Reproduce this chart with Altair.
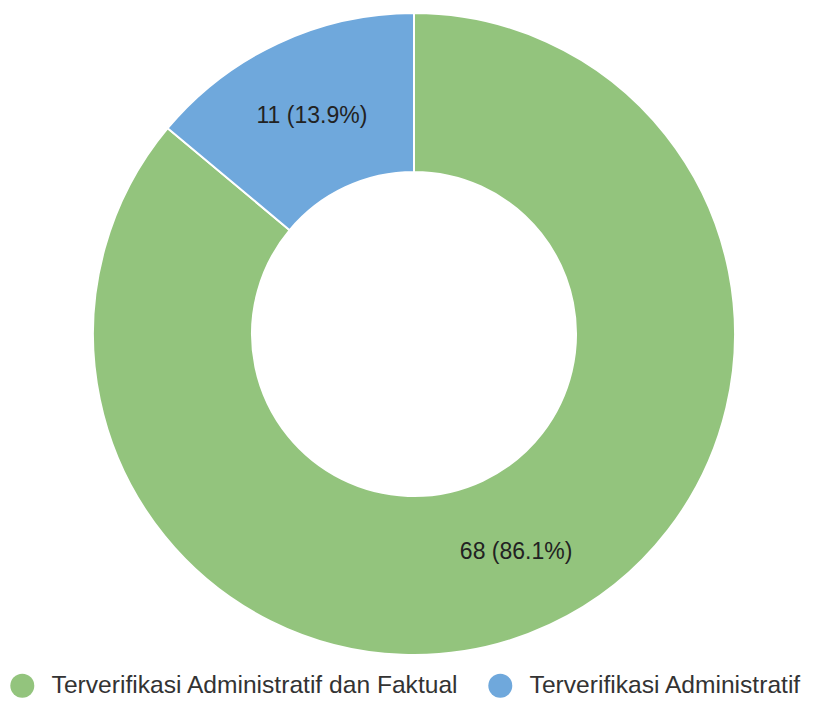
import altair as alt
import pandas as pd

categories = ["Terverifikasi Administratif dan Faktual", "Terverifikasi Administratif"]
values = [68, 11]
colors = ["#93C47D", "#6FA8DC"]

total = sum(values)
df = pd.DataFrame({
    "category": categories,
    "value": values,
    "rank": list(range(len(categories))),
    "label": [f"{v} ({v / total * 100:.1f}%)" for v in values],
})

base = alt.Chart(df).encode(
    theta=alt.Theta("value:Q", stack=True),
    order=alt.Order("rank:Q"),
)

arcs = base.mark_arc(outerRadius=321, innerRadius=162, stroke="white", strokeWidth=2).encode(
    color=alt.Color(
        "category:N",
        scale=alt.Scale(domain=categories, range=colors),
        sort=categories,
        legend=alt.Legend(
            title=None,
            orient="none",
            direction="horizontal",
            legendX=-6,
            legendY=665,
            symbolType="circle",
            symbolSize=576,
            symbolStrokeWidth=0,
            labelFont="Liberation Sans",
            labelFontSize=24.6,
            labelColor="#333333",
            labelOffset=17,
            labelLimit=600,
            columnPadding=29,
            padding=0,
        ),
    ),
)

labels = base.mark_text(radius=241, font="Liberation Sans", fontSize=23, color="#222222").encode(
    text="label:N"
)

chart = (
    alt.layer(arcs, labels)
    .properties(
        width=796,
        height=652,
        autosize=alt.AutoSizeParams(type="none"),
        padding={"left": 8, "top": 0, "right": 0, "bottom": 38},
    )
    .configure_view(stroke=None)
    .configure(background="white")
)

chart.save("out.html", embed_options={"renderer": "svg", "actions": False})
